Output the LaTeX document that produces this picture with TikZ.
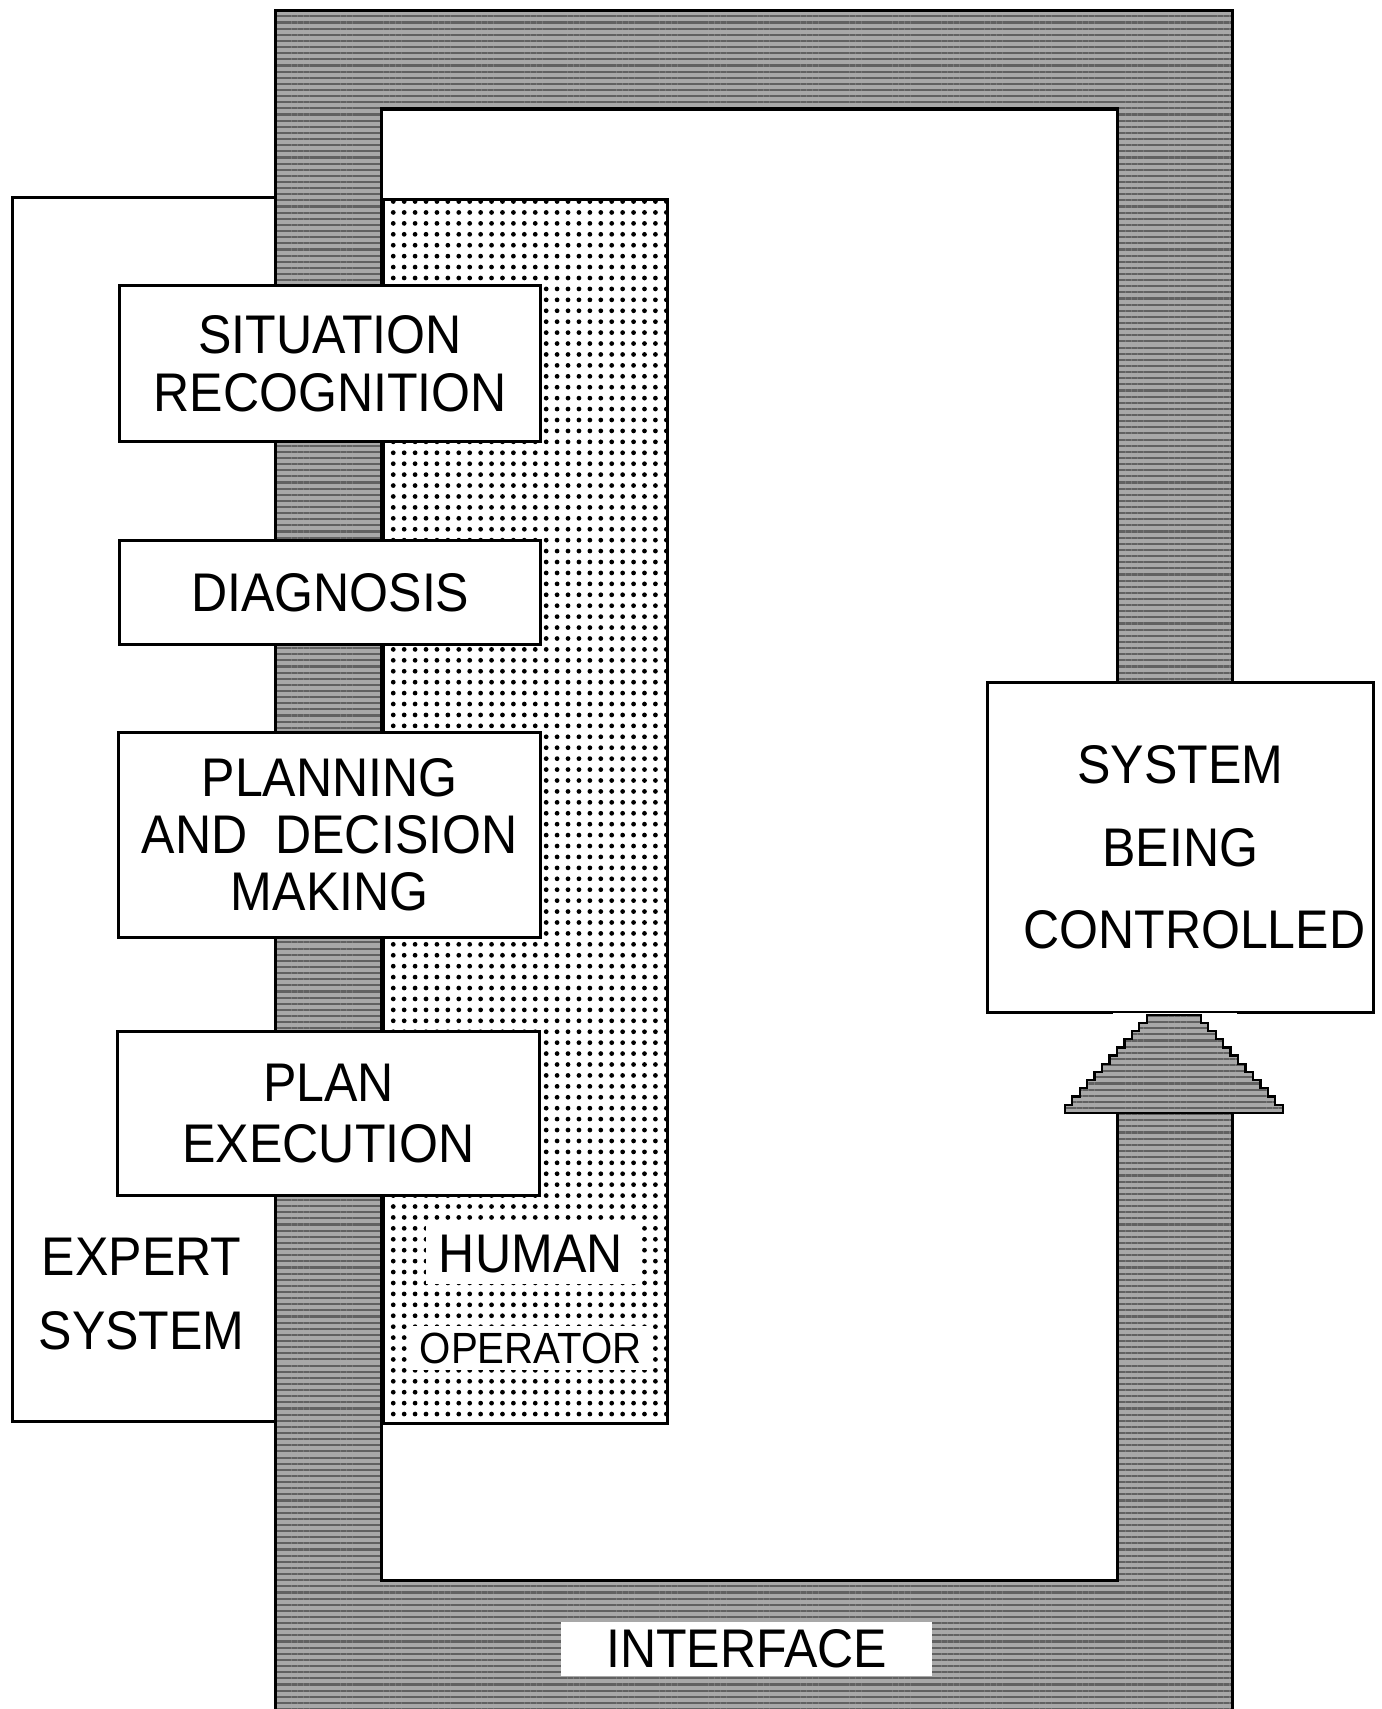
\documentclass[tikz,border=0pt]{standalone}
\usepackage{fontspec}
\newfontfamily\lblfont{Liberation Sans}[FakeStretch=0.92]
\usetikzlibrary{patterns.meta}
\definecolor{ifgray}{gray}{0.66}
\definecolor{ifdark}{gray}{0.38}
\begin{document}
\begin{tikzpicture}[x=0.01cm,y=-0.01cm,
  outline/.style={draw=black,line width=0.8pt},
  big/.style={font=\lblfont\fontsize{14.2}{15.2}\selectfont},
  small/.style={font=\lblfont\fontsize{11.4}{13}\selectfont},
  stage/.style={outline,fill=white,align=center,inner sep=0pt,big},
  region/.style={outline,inner sep=0pt,anchor=north west},
  label/.style={align=center,inner sep=0pt,big},
  whitelabel/.style={fill=white,inner xsep=0.12cm,inner ysep=0.1cm},
  iftexture/.style={pattern={Lines[angle=0,distance=1.6pt,line width=0.55pt]},pattern color=ifdark}
]
\useasboundingbox (0,0) rectangle (1268,1568);
\clip (0,0) rectangle (1268,1568);

% expert system region
\node[region,fill=white,minimum width=2.55cm,minimum height=11.22cm] (expert) at (10,180) {};
% human operator region
\node[region,pattern={Dots[distance=2.85pt,radius=0.62pt]},minimum width=2.61cm,minimum height=11.22cm] (human) at (350,182) {};

% interface frame
\fill[ifgray,even odd rule] (253,10) rectangle (1131,1590) (350,100) rectangle (1025,1450);
\fill[iftexture,even odd rule] (253,10) rectangle (1131,1590) (350,100) rectangle (1025,1450);
\draw[line width=0.8pt] (253,10) rectangle (1131,1590);
\draw[line width=0.8pt] (350,100) rectangle (1025,1450);

% interface label
\node[fill=white,minimum width=3.4cm,minimum height=0.5cm,inner sep=0pt,big] (iface) at (685,1513) {INTERFACE};

% stages
\node[stage,minimum width=3.86cm,minimum height=1.43cm] (sit) at (303,333.5) {SITUATION\\RECOGNITION};
\node[stage,minimum width=3.86cm,minimum height=0.95cm] (diag) at (303,543.5) {DIAGNOSIS};
\node[stage,minimum width=3.87cm,minimum height=1.88cm,font=\lblfont\fontsize{14.2}{14.8}\selectfont] (plan) at (302.5,766) {PLANNING\\AND\ \ DECISION\\MAKING};
\node[stage,minimum width=3.87cm,minimum height=1.51cm,font=\lblfont\fontsize{14.2}{16}\selectfont] (exec) at (301.5,1021.5) {PLAN\\EXECUTION};

% region labels
\node[label] (explbl) at (130,1187) {EXPERT\\[4pt]SYSTEM};
\node[label,whitelabel] (humlbl) at (487,1151) {HUMAN};
\node[small,whitelabel,inner xsep=0.08cm,inner ysep=0.06cm] (oplbl) at (487,1237) {OPERATOR};

% system being controlled
\node[stage,minimum width=3.54cm,minimum height=3.03cm,font=\lblfont\fontsize{14.2}{21.5}\selectfont] (sys) at (1083,777.5) {SYSTEM\\BEING\\\ \ CONTROLLED};

% gap under the system box, then the stepped arrow head
\fill[white] (1021,929.5) rectangle (1135,1021);
\path[fill=ifgray]
  (977,1021) \foreach \i in {1,...,12}{ -- ++(0,-7.5) -- ++(6.83,0) }
  -- ++(36,0) \foreach \i in {1,...,12}{ -- ++(6.83,0) -- ++(0,7.5) } -- cycle;
\path[iftexture]
  (977,1021) \foreach \i in {1,...,12}{ -- ++(0,-7.5) -- ++(6.83,0) }
  -- ++(36,0) \foreach \i in {1,...,12}{ -- ++(6.83,0) -- ++(0,7.5) } -- cycle;
\draw[line width=0.6pt,line join=miter]
  (977,1021) \foreach \i in {1,...,12}{ -- ++(0,-7.5) -- ++(6.83,0) }
  -- ++(36,0) \foreach \i in {1,...,12}{ -- ++(6.83,0) -- ++(0,7.5) } -- cycle;
\end{tikzpicture}
\end{document}
